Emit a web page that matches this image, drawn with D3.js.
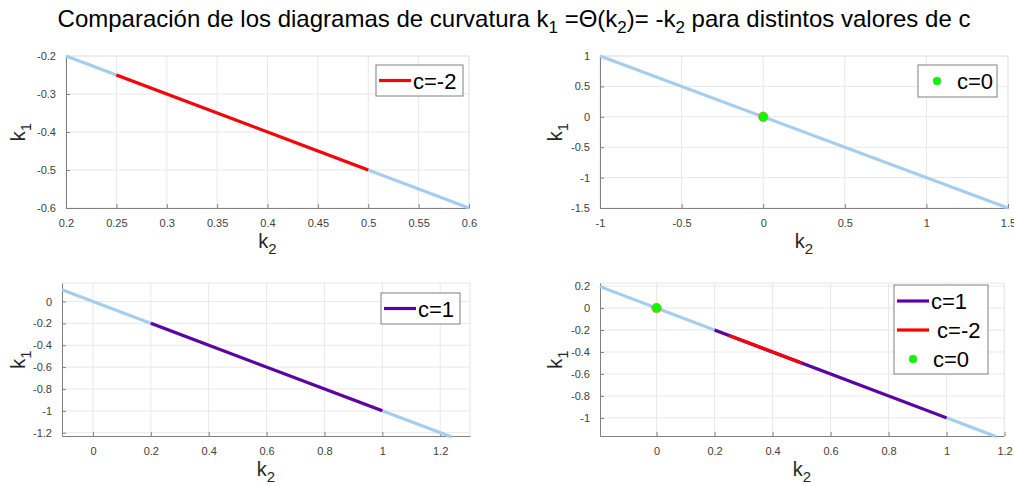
<!DOCTYPE html>
<html>
<head>
<meta charset="utf-8">
<script src="https://cdn.jsdelivr.net/npm/d3@7"></script>
<style>
  body { margin: 0; background: #fff; }
  svg text { font-family: "Liberation Sans", Arial, sans-serif; }
</style>
</head>
<body>
<script>
const width = 1014;
const height = 484;

// k1 = -k2 reference line (light blue), end points per panel
const base1K2 = [0.2, 0.6],      base1K1 = [-0.2, -0.6];
const base2K2 = [-1, 1.5],       base2K1 = [1, -1.5];
const base3K2 = [-0.107, 1.24],  base3K1 = [0.107, -1.24];
const base4K2 = [-0.195, 1.17],  base4K1 = [0.195, -1.17];

// curvature diagram segments
const cNeg2K2 = [0.25, 0.5], cNeg2K1 = [-0.25, -0.5];
const c1K2 = [0.2, 1],       c1K1 = [-0.2, -1];
const c0K2 = [0],            c0K1 = [0];

// tick values
const ticks1X = [0.2, 0.25, 0.3, 0.35, 0.4, 0.45, 0.5, 0.55, 0.6];
const ticks1Y = [-0.6, -0.5, -0.4, -0.3, -0.2];
const ticks2X = [-1, -0.5, 0, 0.5, 1, 1.5];
const ticks2Y = [-1.5, -1, -0.5, 0, 0.5, 1];
const ticks3X = [0, 0.2, 0.4, 0.6, 0.8, 1, 1.2];
const ticks3Y = [-1.2, -1, -0.8, -0.6, -0.4, -0.2, 0];
const ticks4X = [0, 0.2, 0.4, 0.6, 0.8, 1, 1.2];
const ticks4Y = [-1, -0.8, -0.6, -0.4, -0.2, 0, 0.2];

const colBase = "#a5cdef";
const colRed = "#ff0000";
const colPurple = "#6000a0";
const colGreen = "#00ff00";

const zip = (a, b) => a.map((v, i) => [v, b[i]]);

const svg = d3.select("body").append("svg")
    .attr("width", width)
    .attr("height", height);

// title
const title = svg.append("text")
    .attr("x", 514).attr("y", 27)
    .attr("text-anchor", "middle")
    .attr("font-size", 24)
    .attr("fill", "#000");
const sub = (t) => title.append("tspan").attr("font-size", 17).attr("dy", 6).text(t);
const norm = (t) => title.append("tspan").attr("dy", -6).text(t);
title.append("tspan").text("Comparación de los diagramas de curvatura k");
sub("1"); norm(" =Θ(k"); sub("2"); norm(")= -k"); sub("2"); norm(" para distintos valores de c");

const panels = [
  { x0: 66, x1: 469, y0: 56, y1: 208, dx: [0.2, 0.6], dy: [-0.6, -0.2],
    tx: ticks1X, ty: ticks1Y, ylabOff: 41,
    lines: [[base1K2, base1K1, colBase], [cNeg2K2, cNeg2K1, colRed]], dots: [],
    legend: { x: 376, y: 65, w: 87, h: 31, items: [["line", colRed, "c=-2", 0]] } },
  { x0: 600, x1: 1008, y0: 56, y1: 208, dx: [-1, 1.5], dy: [-1.5, 1],
    tx: ticks2X, ty: ticks2Y, ylabOff: 38,
    lines: [[base2K2, base2K1, colBase]], dots: [[c0K2, c0K1]],
    legend: { x: 918, y: 65, w: 79, h: 32, items: [["dot", colGreen, "c=0", 0]] } },
  { x0: 62, x1: 470, y0: 283, y1: 436, dx: [-0.107, 1.303], dy: [-1.23, 0.169],
    tx: ticks3X, ty: ticks3Y, ylabOff: 37,
    lines: [[base3K2, base3K1, colBase], [c1K2, c1K1, colPurple]], dots: [],
    legend: { x: 381, y: 293, w: 79, h: 31, items: [["line", colPurple, "c=1", 0]] } },
  { x0: 600, x1: 1004, y0: 283, y1: 436, dx: [-0.195, 1.198], dy: [-1.165, 0.228],
    tx: ticks4X, ty: ticks4Y, ylabOff: 38,
    lines: [[base4K2, base4K1, colBase], [c1K2, c1K1, colPurple], [cNeg2K2, cNeg2K1, colRed]],
    dots: [[c0K2, c0K1]],
    legend: { x: 894, y: 285, w: 94, h: 89,
      items: [["line", colPurple, "c=1", 0], ["line", colRed, " c=-2", 0], ["dot", colGreen, "c=0", 0]] } }
];

panels.forEach(p => {
  const x = d3.scaleLinear().domain(p.dx).range([p.x0, p.x1]);
  const y = d3.scaleLinear().domain(p.dy).range([p.y1, p.y0]);
  const g = svg.append("g");

  // grid
  g.append("g").selectAll("line").data(p.tx).join("line")
      .attr("x1", d => x(d)).attr("x2", d => x(d))
      .attr("y1", p.y0).attr("y2", p.y1)
      .attr("stroke", "#e8e8e8").attr("stroke-width", 1);
  g.append("g").selectAll("line").data(p.ty).join("line")
      .attr("x1", p.x0).attr("x2", p.x1)
      .attr("y1", d => y(d)).attr("y2", d => y(d))
      .attr("stroke", "#e8e8e8").attr("stroke-width", 1);
  // light box top/right
  g.append("path")
      .attr("d", `M${p.x0},${p.y0}H${p.x1}V${p.y1}`)
      .attr("fill", "none").attr("stroke", "#e8e8e8");

  // axes
  const fmt = d => String(d);
  const ax = g.append("g").attr("transform", `translate(0,${p.y1})`)
      .call(d3.axisBottom(x).tickValues(p.tx).tickFormat(fmt).tickSizeInner(-4).tickSizeOuter(0).tickPadding(11));
  const ay = g.append("g").attr("transform", `translate(${p.x0},0)`)
      .call(d3.axisLeft(y).tickValues(p.ty).tickFormat(fmt).tickSizeInner(-4).tickSizeOuter(0).tickPadding(10));
  [ax, ay].forEach(a => {
    a.select(".domain").attr("stroke", "#808080");
    a.selectAll(".tick line").attr("stroke", "#808080");
    a.selectAll(".tick text").attr("fill", "#404040").attr("font-size", 11)
        .attr("font-family", "'Liberation Sans', Arial, sans-serif");
  });

  // data lines
  const line = d3.line().x(d => x(d[0])).y(d => y(d[1]));
  p.lines.forEach(([k2, k1, c]) => {
    g.append("path").datum(zip(k2, k1))
        .attr("d", line)
        .attr("fill", "none").attr("stroke", c).attr("stroke-width", 3.2);
  });
  p.dots.forEach(([k2, k1]) => {
    g.selectAll(null).data(zip(k2, k1)).join("circle")
        .attr("cx", d => x(d[0])).attr("cy", d => y(d[1])).attr("r", 4.8)
        .attr("fill", colGreen).attr("stroke", "#d98a3a").attr("stroke-width", 0.8);
  });

  // axis labels
  const xl = g.append("text")
      .attr("x", (p.x0 + p.x1) / 2).attr("y", p.y1 + 40)
      .attr("text-anchor", "middle").attr("font-size", 20).attr("fill", "#262626");
  xl.append("tspan").text("k");
  xl.append("tspan").attr("font-size", 15).attr("dy", 6).text("2");
  const yl = g.append("text")
      .attr("transform", `translate(${p.x0 - p.ylabOff},${(p.y0 + p.y1) / 2}) rotate(-90)`)
      .attr("text-anchor", "middle").attr("font-size", 20).attr("fill", "#262626");
  yl.append("tspan").text("k");
  yl.append("tspan").attr("font-size", 15).attr("dy", 6).text("1");

  // legend
  const L = p.legend;
  const lg = g.append("g");
  lg.append("rect").attr("x", L.x).attr("y", L.y).attr("width", L.w).attr("height", L.h)
      .attr("fill", "#fff").attr("stroke", "#808080").attr("stroke-width", 1);
  const rowH = L.items.length > 1 ? 29 : 0;
  const firstY = L.items.length > 1 ? L.y + 16 : L.y + L.h / 2;
  L.items.forEach(([kind, c, label], i) => {
    const cy = firstY + i * rowH;
    if (kind === "line") {
      lg.append("line").attr("x1", L.x + 3).attr("x2", L.x + 35)
          .attr("y1", cy).attr("y2", cy).attr("stroke", c).attr("stroke-width", 3.2);
    } else {
      lg.append("circle").attr("cx", L.x + 19).attr("cy", cy).attr("r", 4)
          .attr("fill", c).attr("stroke", "#9a9a60").attr("stroke-width", 0.4);
    }
    lg.append("text").attr("x", L.x + 37 + (kind === "dot" ? 2 : 0)).attr("y", cy + 8)
        .attr("font-size", 22).attr("fill", "#000")
        .attr("xml:space", "preserve").style("white-space", "pre")
        .text(label);
  });
});
</script>
</body>
</html>
